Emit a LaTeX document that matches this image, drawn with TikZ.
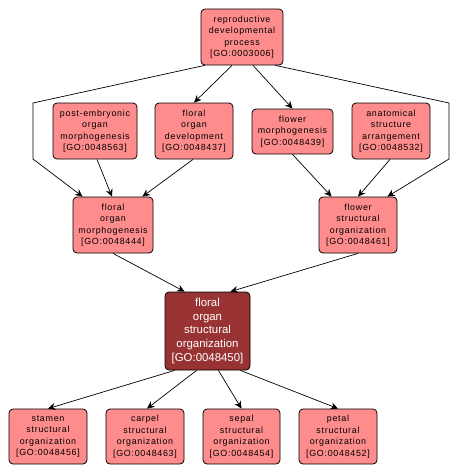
\documentclass[tikz,border=0pt]{standalone}
\usepackage{fontspec}
\setmainfont{Liberation Sans}
\newfontfamily\pinkfont[LetterSpace=8]{Liberation Sans}
\newfontfamily\mainfont{Liberation Sans}
\usetikzlibrary{arrows.meta}
\definecolor{gopink}{RGB}{255,140,140}
\definecolor{godark}{RGB}{153,51,51}
\tikzset{
  gobox/.style={draw=black, line width=0.8pt, fill=gopink, rounded corners=4pt,
    align=center, inner sep=0pt, font={\pinkfont\fontsize{8.9}{11.5}\selectfont}},
  mainbox/.style={draw=black, line width=0.8pt, fill=godark, rounded corners=4pt,
    align=center, inner sep=0pt, text=white, font={\mainfont\fontsize{11.4}{13.6}\selectfont}},
  edge/.style={draw=black, line width=0.7pt, -{Stealth[length=7.5pt,width=7pt,inset=2.5pt]}}
}
\begin{document}
\begin{tikzpicture}[x=1pt,y=-1pt]
\useasboundingbox[fill=white] (0,0) rectangle (460,475);
\node[gobox, minimum width=82pt, minimum height=56pt] (top) at (242,37) {reproductive\\developmental\\process\\{[}GO:0003006{]}};
\node[gobox, minimum width=84pt, minimum height=56pt] (pe) at (95,131) {post-embryonic\\organ\\morphogenesis\\{[}GO:0048563{]}};
\node[gobox, minimum width=78pt, minimum height=56pt] (fod) at (194,131) {floral\\organ\\development\\{[}GO:0048437{]}};
\node[gobox, minimum width=81pt, minimum height=45pt] (fm) at (292.5,131.5) {flower\\morphogenesis\\{[}GO:0048439{]}};
\node[gobox, minimum width=78pt, minimum height=56pt] (asa) at (391,131) {anatomical\\structure\\arrangement\\{[}GO:0048532{]}};
\node[gobox, minimum width=80pt, minimum height=56pt] (fom) at (113,225) {floral\\organ\\morphogenesis\\{[}GO:0048444{]}};
\node[gobox, minimum width=78pt, minimum height=56pt] (fso) at (358,225) {flower\\structural\\organization\\{[}GO:0048461{]}};
\node[mainbox, minimum width=85pt, minimum height=78pt] (main) at (207.5,331) {floral\\organ\\structural\\organization\\{[}GO:0048450{]}};
\node[gobox, minimum width=78pt, minimum height=55pt] (stamen) at (48,436.5) {stamen\\structural\\organization\\{[}GO:0048456{]}};
\node[gobox, minimum width=78pt, minimum height=55pt] (carpel) at (145,436.5) {carpel\\structural\\organization\\{[}GO:0048463{]}};
\node[gobox, minimum width=77pt, minimum height=55pt] (sepal) at (241.5,436.5) {sepal\\structural\\organization\\{[}GO:0048454{]}};
\node[gobox, minimum width=78pt, minimum height=55pt] (petal) at (338,436.5) {petal\\structural\\organization\\{[}GO:0048452{]}};
\coordinate (l1) at (33,103);
\coordinate (l2) at (33,159);
\coordinate (r1) at (449,103);
\coordinate (r2) at (449,159);
\draw[edge] ([xshift=-10pt]top.south) -- (fod.north);
\draw[edge] ([xshift=11pt]top.south) -- (fm.north);
\draw[edge] ([xshift=4pt]top.south west) -- (l1) -- (l2) -- ([xshift=10pt]fom.north west);
\draw[edge] ([xshift=-8pt]top.south east) -- (r1) -- (r2) -- ([xshift=-10pt]fso.north east);
\draw[edge] ([xshift=2pt]pe.south) -- ([xshift=-1pt]fom.north);
\draw[edge] ([xshift=-1pt]fod.south) -- ([xshift=-11pt]fom.north east);
\draw[edge] (fm.south) -- ([xshift=13pt]fso.north west);
\draw[edge] ([xshift=-1pt]asa.south) -- (fso.north);
\draw[edge] (fom.south) -- ([xshift=20pt]main.north west);
\draw[edge] (fso.south) -- ([xshift=-20pt]main.north east);
\draw[edge] ([xshift=10pt]main.south west) -- (stamen.north);
\draw[edge] ([xshift=32pt]main.south west) -- ([xshift=2pt]carpel.north);
\draw[edge] ([xshift=-32pt]main.south east) -- (sepal.north);
\draw[edge] ([xshift=-10pt]main.south east) -- (petal.north);
\end{tikzpicture}
\end{document}
